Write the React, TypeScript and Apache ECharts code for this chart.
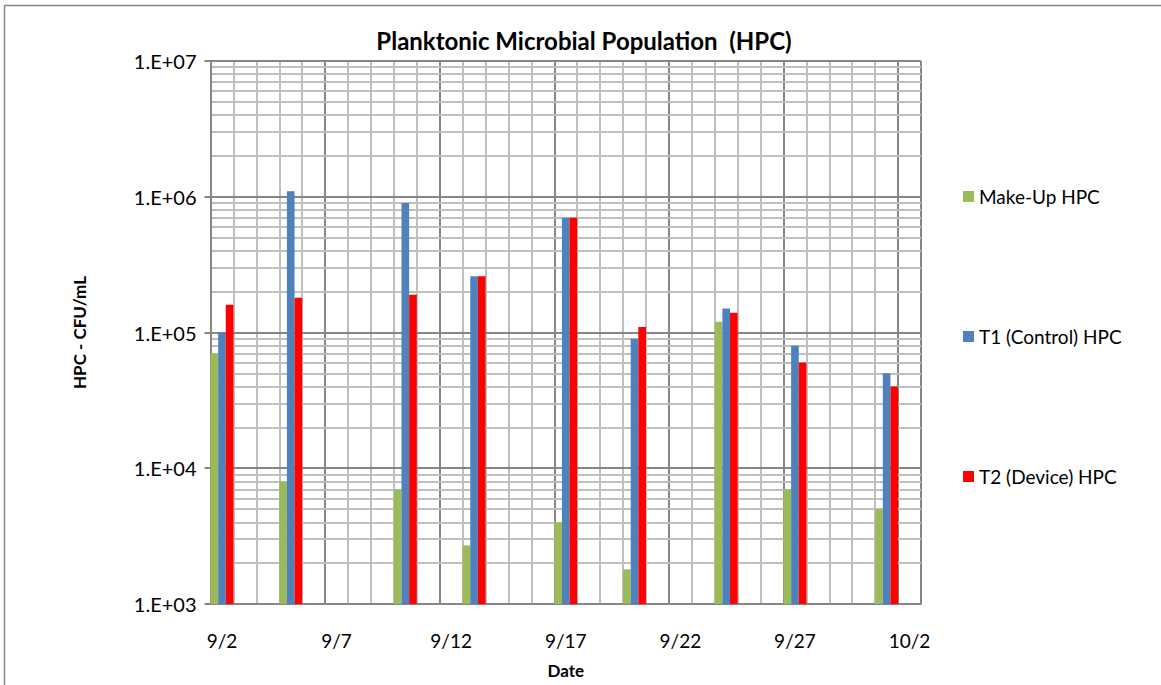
import React, { useEffect, useRef } from "react";
import * as echarts from "echarts";

const seriesNames = ["Make-Up HPC", "T1 (Control) HPC", "T2 (Device) HPC"];
const seriesColors = ["#9BBB59", "#4F81BD", "#FF0000"];

// daily date axis 9/2 .. 10/2
const axisDays: string[] = [
  "9/2", "9/3", "9/4", "9/5", "9/6", "9/7", "9/8", "9/9", "9/10", "9/11",
  "9/12", "9/13", "9/14", "9/15", "9/16", "9/17", "9/18", "9/19", "9/20", "9/21",
  "9/22", "9/23", "9/24", "9/25", "9/26", "9/27", "9/28", "9/29", "9/30", "10/1",
  "10/2",
];

const sampleDates = ["9/2", "9/5", "9/10", "9/13", "9/17", "9/20", "9/24", "9/27", "10/1"];
const makeUpHPC = [70000, 8000, 7000, 2700, 4000, 1800, 120000, 7000, 5000];
const t1HPC = [100000, 1100000, 900000, 260000, 700000, 90000, 150000, 80000, 50000];
const t2HPC = [160000, 180000, 190000, 260000, 700000, 110000, 140000, 60000, 40000];

const yMin = 1e3;
const yMax = 1e7;
const decades = [1e3, 1e4, 1e5, 1e6];
const minorSteps = [2, 3, 4, 5, 6, 7, 8, 9];

const FONT = "Lato";

function onAxis(values: number[]) {
  return axisDays.map((d) => {
    const i = sampleDates.indexOf(d);
    return i >= 0 ? values[i] : null;
  });
}

export default function App() {
  const ref = useRef<HTMLDivElement>(null);
  useEffect(() => {
    document.body.style.margin = "0";
    const chart = echarts.init(ref.current!, undefined, { renderer: "svg" });
    const minorLines: number[] = [];
    decades.forEach((d) => minorSteps.forEach((s) => minorLines.push(d * s)));
    const allValues = [makeUpHPC, t1HPC, t2HPC];

    const legends = seriesNames.map((name, i) => ({
      data: [name],
      orient: "vertical",
      left: 963,
      top: 187 + i * 140,
      padding: 0,
      itemWidth: 11,
      itemHeight: 11,
      itemGap: 0,
      icon: "rect",
      selectedMode: false,
      textStyle: { fontFamily: FONT, fontSize: 19, color: "#000" },
    }));

    chart.setOption({
      animation: false,
      backgroundColor: "#fff",
      title: {
        text: "Planktonic Microbial Population  (HPC)",
        left: 584,
        top: 28,
        padding: 0,
        textAlign: "center",
        textStyle: { fontFamily: FONT, fontSize: 24, fontWeight: "bold", color: "#000" },
      },
      legend: legends,
      grid: { left: 210.5, right: 240, top: 61, bottom: 81, containLabel: false },
      graphic: [
        {
          type: "rect",
          silent: true,
          shape: { x: 4.5, y: 5.5, width: 1400, height: 900 },
          style: { fill: "none", stroke: "#868686", lineWidth: 1.5 },
        },
      ],
      xAxis: [
        {
          type: "category",
          data: axisDays,
          boundaryGap: true,
          name: "Date",
          nameLocation: "middle",
          nameGap: 58,
          nameTextStyle: { fontFamily: FONT, fontSize: 17, fontWeight: "bold", color: "#000" },
          axisLine: { show: true, lineStyle: { color: "#868686", width: 2 } },
          axisTick: { show: false },
          axisLabel: {
            interval: 4,
            margin: 27,
            fontFamily: FONT,
            fontSize: 19,
            color: "#000",
          },
          splitLine: { show: true, interval: 0, lineStyle: { color: "#BFBFBF", width: 2 } },
          z: 0,
        },
        {
          type: "category",
          data: axisDays,
          boundaryGap: true,
          position: "bottom",
          axisLine: { show: false },
          axisTick: { show: false },
          axisLabel: { show: false },
          splitLine: { show: true, interval: 4, lineStyle: { color: "#868686", width: 2 } },
          z: 1,
        },
      ],
      yAxis: {
        type: "log",
        logBase: 10,
        min: yMin,
        max: yMax,
        name: "HPC - CFU/mL",
        nameLocation: "middle",
        nameGap: 123,
        nameRotate: 90,
        nameTextStyle: { fontFamily: FONT, fontSize: 17, fontWeight: "bold", color: "#000" },
        axisLine: { show: true, lineStyle: { color: "#868686", width: 2 } },
        axisTick: { show: true, length: 6, inside: false, lineStyle: { color: "#868686", width: 2 } },
        axisLabel: {
          margin: 14,
          fontFamily: FONT,
          fontSize: 20,
          color: "#000",
          formatter: (v: number) => {
            const e = Math.round(Math.log10(v));
            return "1.E+" + String(e).padStart(2, "0");
          },
        },
        splitLine: { show: true, lineStyle: { color: "#868686", width: 2 } },
        z: 2,
      },
      series: allValues.map((vals, i) => ({
        name: seriesNames[i],
        type: "bar",
        xAxisIndex: 0,
        data: onAxis(vals),
        barGap: "0%",
        barCategoryGap: "0%",
        itemStyle: { color: seriesColors[i] },
        z: 3,
        markLine:
          i === 0
            ? {
                silent: true,
                z: 1,
                symbol: ["none", "none"],
                label: { show: false },
                emphasis: { disabled: true },
                lineStyle: { color: "#BFBFBF", width: 2, type: "solid" },
                data: minorLines.map((v) => ({ yAxis: v })),
              }
            : undefined,
      })),
    });
    return () => chart.dispose();
  }, []);
  return <div ref={ref} style={{ width: 1161, height: 685 }} />;
}
